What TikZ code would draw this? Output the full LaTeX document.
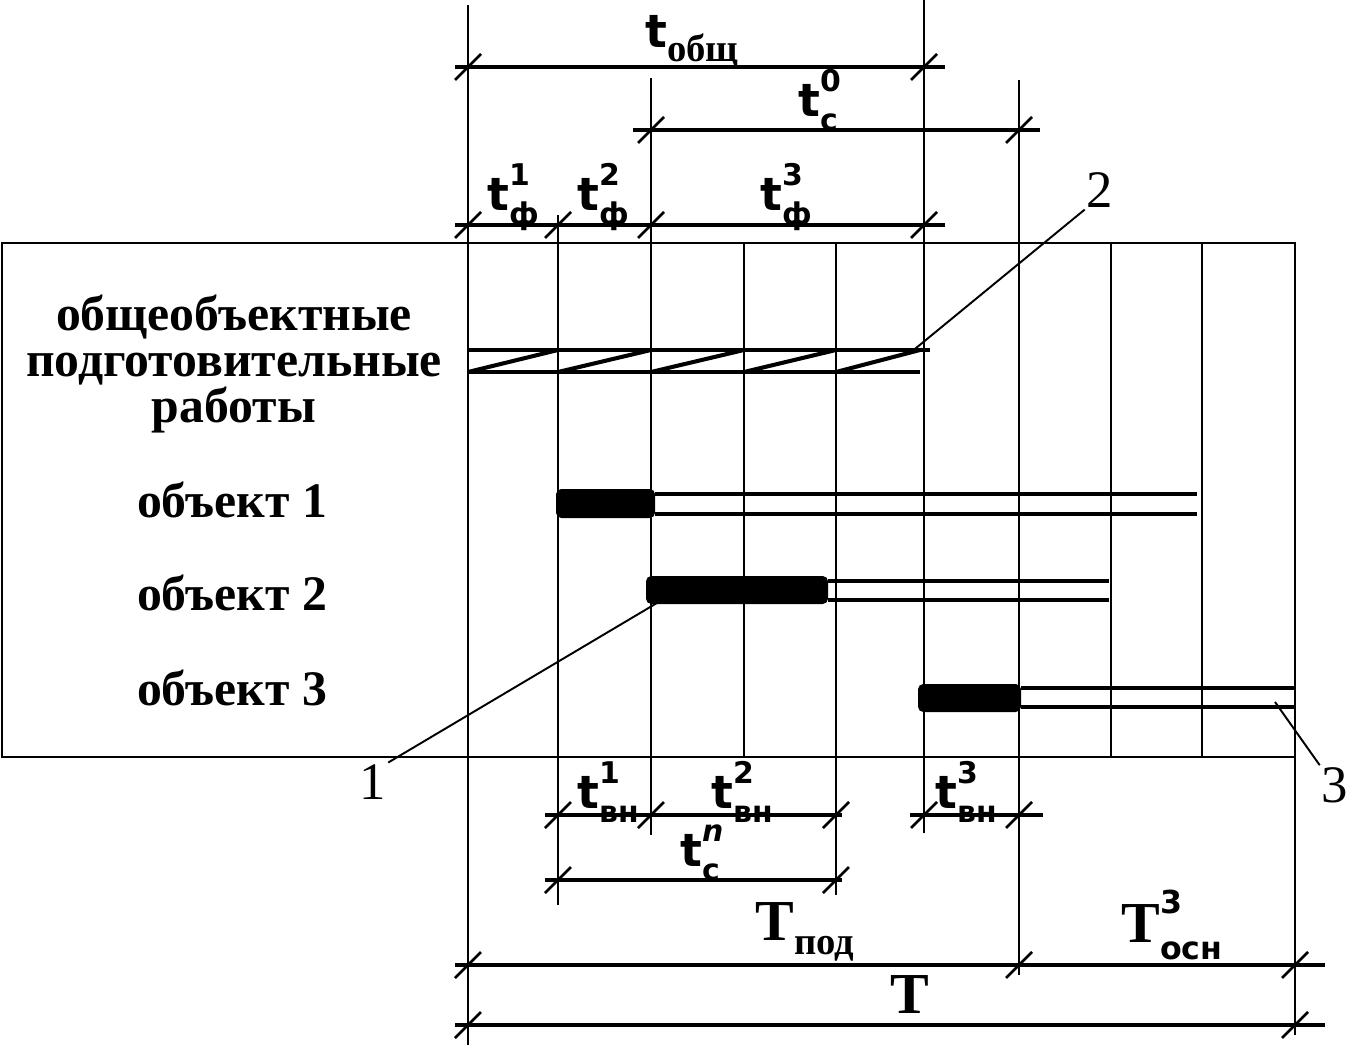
\documentclass[tikz,border=0pt]{standalone}
\usepackage{fontspec}
\setmainfont{Liberation Serif}
\newfontfamily\tfont{DejaVu Sans}
\usetikzlibrary{positioning}
\tikzset{
  frameline/.style={line width=1.5pt},
  gridline/.style={line width=1.4pt},
  dimline/.style={line width=1.8pt},
  dimtick/.style={line width=1.5pt},
  barline/.style={line width=2.3pt},
  leader/.style={line width=1.1pt},
  rowlabel/.style={font=\bfseries\fontsize{28.3}{26}\selectfont, align=center, inner sep=0pt},
  dimlabel/.style={font=\tfont\bfseries\fontsize{26}{28}\selectfont, inner sep=0pt},
  serlabel/.style={font=\bfseries\fontsize{33}{34}\selectfont, inner sep=0pt},
  callout/.style={font=\fontsize{30}{32}\selectfont, inner sep=1pt}
}
% slash mark on a dimension line
\newcommand{\slashmark}[2]{\draw[dimtick] (#1-13,#2+13) -- (#1+13,#2-13);}
% base letter with upper and lower index
\newcommand{\idx}[3]{#1\makebox[0pt][l]{\raisebox{0.55em}{\fontsize{17}{17}\selectfont #2}}\raisebox{-0.3em}{\fontsize{17}{17}\selectfont #3}}

\begin{document}
\begin{tikzpicture}[x=0.02cm,y=-0.02cm]
  \useasboundingbox (0,0) rectangle (1347,1048);

  % frame and grid
  \draw[frameline] (2,243) rectangle (1295,757);
  \foreach \gx in {558,651,744,836,924,1019,1111,1202}
    \draw[gridline] (\gx,243) -- (\gx,757);

  % extension lines
  \draw[frameline] (468,5) -- (468,1045);
  \draw[gridline] (558,215) -- (558,243) (558,757) -- (558,905);
  \draw[gridline] (651,78) -- (651,243) (651,757) -- (651,835);
  \draw[gridline] (836,757) -- (836,895);
  \draw[gridline] (924,0) -- (924,243) (924,757) -- (924,833);
  \draw[gridline] (1019,80) -- (1019,243) (1019,757) -- (1019,975);
  \draw[gridline] (1295,757) -- (1295,1035);

  % dimension lines above
  \draw[dimline] (455,67) -- (945,67);
  \foreach \dx in {468,924} {\slashmark{\dx}{67}}
  \draw[dimline] (633,130) -- (1040,130);
  \foreach \dx in {651,1019} {\slashmark{\dx}{130}}
  \draw[dimline] (455,225) -- (945,225);
  \foreach \dx in {468,558,651,924} {\slashmark{\dx}{225}}

  % dimension lines below
  \draw[dimline] (545,815) -- (842,815);
  \foreach \dx in {558,651,836} {\slashmark{\dx}{815}}
  \draw[dimline] (910,815) -- (1043,815);
  \foreach \dx in {924,1019} {\slashmark{\dx}{815}}
  \draw[dimline] (545,880) -- (842,880);
  \foreach \dx in {558,836} {\slashmark{\dx}{880}}
  \draw[dimline] (455,965) -- (1325,965);
  \foreach \dx in {468,1019,1295} {\slashmark{\dx}{965}}
  \draw[dimline] (455,1025) -- (1325,1025);
  \foreach \dx in {468,1295} {\slashmark{\dx}{1025}}

  % dimension labels
  \node[dimlabel] (tobsh) at (692,42) {t\raisebox{-0.3em}{\rmfamily\bfseries\fontsize{22}{22}\selectfont общ}};
  \node[dimlabel] (tc0) at (818,100) {\idx{t}{0}{с}};
  \node[dimlabel] (tf1) at (513,197) {\idx{t}{1}{ф}};
  \node[dimlabel] (tf2) at (603,197) {\idx{t}{2}{ф}};
  \node[dimlabel] (tf3) at (786,197) {\idx{t}{3}{ф}};
  \node[dimlabel] (tvn1) at (608,792) {\idx{t}{1}{вн}};
  \node[dimlabel] (tvn2) at (742,792) {\idx{t}{2}{вн}};
  \node[dimlabel] (tvn3) at (966,792) {\idx{t}{3}{вн}};
  \node[dimlabel] (tcn) at (700,853) {\idx{t}{\itshape n}{с}};
  \node[serlabel] (Tpod) at (805,932) {T\raisebox{-0.25em}{\fontsize{22}{22}\selectfont под}};
  \node[serlabel] (Tosn) at (1172,925) {T\makebox[0pt][l]{\raisebox{0.5em}{\tfont\bfseries\fontsize{18}{18}\selectfont 3}}\raisebox{-0.3em}{\tfont\bfseries\fontsize{18}{18}\selectfont осн}};
  \node[serlabel] (Ttot) at (910,995) {T};

  % row labels
  \node[rowlabel] (prep) at (234,364) {общеобъектные\\подготовительные\\работы};
  \node[rowlabel] (obj1) at (232,500) {объект 1};
  \node[rowlabel] (obj2) at (232,593) {объект 2};
  \node[rowlabel] (obj3) at (232,688) {объект 3};

  % general preparatory works (hatched)
  \draw[barline] (468,350) -- (930,350);
  \draw[barline] (468,372) -- (920,372);
  \foreach \ha/\hb in {468/558,558/651,651/744,744/836,836/920}
    \draw[barline] (\ha,372) -- (\hb,350);

  % object bars
  \fill[rounded corners=3pt] (556,489) rectangle (655,518);
  \draw[barline] (655,494) -- (1197,494) (655,514) -- (1197,514);
  \fill[rounded corners=3pt] (646,576) rectangle (828,604);
  \draw[barline] (828,581) -- (1109,581) (828,600) -- (1109,600);
  \fill[rounded corners=3pt] (918,684) rectangle (1021,712);
  \draw[barline] (1021,688) -- (1295,688) (1021,707) -- (1295,707);

  % callouts
  \node[callout] (n2) at (1100,190) {2};
  \node[callout] (n1) at (373,782) {1};
  \node[callout] (n3) at (1335,785) {3};
  \coordinate (p2) at (910,353);
  \coordinate (p1) at (662,600);
  \coordinate (p3) at (1275,702);
  \draw[leader] (n2.south west) -- (p2);
  \draw[leader] (n1.north east) -- (p1);
  \draw[leader] (n3.north west) -- (p3);
\end{tikzpicture}
\end{document}
